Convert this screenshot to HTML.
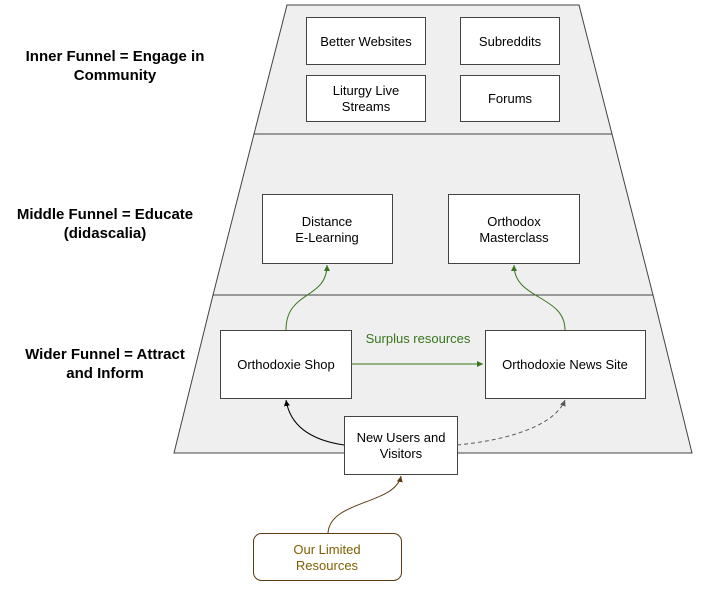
<!DOCTYPE html>
<html><head><meta charset="utf-8"><style>
html,body{margin:0;padding:0;background:#fff;}
svg{display:block;font-family:"Liberation Sans",sans-serif;}
</style></head><body>
<svg width="711" height="592" viewBox="0 0 711 592" xmlns="http://www.w3.org/2000/svg">
<defs>
<marker id="ag" markerWidth="8" markerHeight="8" refX="6" refY="3" orient="auto" markerUnits="userSpaceOnUse"><path d="M0,0 L6,3 L0,6 z" fill="#38761d"/></marker>
<marker id="ak" markerWidth="8" markerHeight="8" refX="6" refY="3" orient="auto" markerUnits="userSpaceOnUse"><path d="M0,0 L6,3 L0,6 z" fill="#000"/></marker>
<marker id="ad" markerWidth="8" markerHeight="8" refX="6" refY="3" orient="auto" markerUnits="userSpaceOnUse"><path d="M0,0 L6,3 L0,6 z" fill="#595959"/></marker>
<marker id="ab" markerWidth="8" markerHeight="8" refX="6" refY="3" orient="auto" markerUnits="userSpaceOnUse"><path d="M0,0 L6,3 L0,6 z" fill="#5b3a12"/></marker>
</defs>
<g fill="#efefef" stroke="#434343" stroke-width="1">
<polygon points="287,5 579,5 612,134 254,134"/>
<polygon points="254,134 612,134 653,295 213,295"/>
<polygon points="213,295 653,295 692,453 174,453"/>
</g>
<g font-weight="bold" font-size="15" fill="#000" text-anchor="middle">
<text x="115" y="61">Inner Funnel = Engage in</text>
<text x="115" y="80">Community</text>
<text x="105" y="219">Middle Funnel = Educate</text>
<text x="105" y="238">(didascalia)</text>
<text x="105" y="359">Wider Funnel = Attract</text>
<text x="105" y="378">and Inform</text>
</g>
<g fill="#fff" stroke="#434343">
<rect x="306.5" y="17.5" width="119" height="47"/>
<rect x="460.5" y="17.5" width="99" height="47"/>
<rect x="306.5" y="75.5" width="119" height="46"/>
<rect x="460.5" y="75.5" width="99" height="46"/>
<rect x="262.5" y="194.5" width="130" height="69"/>
<rect x="448.5" y="194.5" width="131" height="69"/>
<rect x="220.5" y="330.5" width="131" height="68"/>
<rect x="485.5" y="330.5" width="160" height="68"/>
<rect x="344.5" y="416.5" width="113" height="58"/>
</g>
<rect x="253.5" y="533.5" width="148" height="47" rx="8" fill="#fff" stroke="#5b3a12"/>
<g font-size="13" fill="#000" text-anchor="middle">
<text x="366" y="46">Better Websites</text>
<text x="510" y="46">Subreddits</text>
<text x="366" y="95">Liturgy Live</text>
<text x="366" y="111">Streams</text>
<text x="510" y="103">Forums</text>
<text x="327" y="226">Distance</text>
<text x="327" y="242">E-Learning</text>
<text x="514" y="226">Orthodox</text>
<text x="514" y="242">Masterclass</text>
<text x="286" y="369">Orthodoxie Shop</text>
<text x="565" y="369">Orthodoxie News Site</text>
<text x="401" y="442">New Users and</text>
<text x="401" y="458">Visitors</text>
<text x="327" y="554" fill="#7f6000">Our Limited</text>
<text x="327" y="570" fill="#7f6000">Resources</text>
<text x="418" y="343" fill="#38761d">Surplus resources</text>
</g>
<g fill="none">
<path d="M286,330 C286,290 327,300 327,265" stroke="#38761d" marker-end="url(#ag)"/>
<path d="M565,330 C565,295 514,300 514,265" stroke="#38761d" marker-end="url(#ag)"/>
<path d="M351,364 L483,364" stroke="#38761d" marker-end="url(#ag)"/>
<path d="M344,445 C310,440 290,425 286,400" stroke="#000" marker-end="url(#ak)"/>
<path d="M457,445 C510,440 555,425 565,400" stroke="#595959" stroke-dasharray="4,3" marker-end="url(#ad)"/>
<path d="M328,533 C330,500 395,505 401,476" stroke="#5b3a12" marker-end="url(#ab)"/>
</g>
</svg>
</body></html>
